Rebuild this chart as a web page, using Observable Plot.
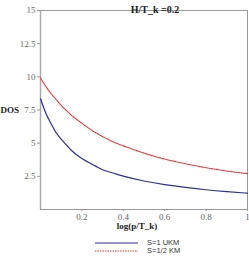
<!DOCTYPE html>
<html><head><meta charset="utf-8">
<script src="https://cdn.jsdelivr.net/npm/d3@7"></script>
<script src="https://cdn.jsdelivr.net/npm/@observablehq/plot@0.6"></script>
<style>
body{margin:0;background:#fff;width:249px;height:259px;overflow:hidden;position:relative}
#legend{position:absolute;left:95px;top:239px;font-family:"Liberation Sans",Arial,sans-serif;font-size:7.5px;color:#333;line-height:8px}
.row{display:flex;align-items:center;height:8px}
.row svg{margin-right:9px}
</style>
</head><body>
<div id="chart"></div>
<div id="legend"></div>
<script>
const xs  = [0, 0.025, 0.05, 0.075, 0.1, 0.15, 0.2, 0.25, 0.3, 0.35, 0.4, 0.5, 0.6, 0.7, 0.8, 0.9, 1.0];
const ukm = [8.35, 7.3, 6.5, 5.8, 5.3, 4.45, 3.85, 3.4, 3.0, 2.75, 2.52, 2.15, 1.88, 1.67, 1.49, 1.35, 1.23];
const km  = [9.9, 9.3, 8.75, 8.3, 7.85, 7.1, 6.5, 5.95, 5.5, 5.1, 4.8, 4.25, 3.8, 3.45, 3.15, 2.9, 2.7];
const yTicks = [2.5, 5, 7.5, 10, 12.5, 15];
const xTicks = [0.2, 0.4, 0.6, 0.8, 1];
const seriesNames = ["S=1 UKM", "S=1/2 KM"];
const colors = ["#2e2e9e", "#f03030"];
const title = "H/T_k =0.2";
const xLabel = "log(p/T_k)";
const yLabel = "DOS";

const serif = "Liberation Serif";
const dataU = xs.map((x, i) => ({x, y: ukm[i]}));
const dataK = xs.map((x, i) => ({x, y: km[i]}));

const plot = Plot.plot({
  width: 249, height: 236,
  marginTop: 10, marginLeft: 40, marginRight: 2, marginBottom: 27,
  style: {fontFamily: serif, fontSize: "9px", background: "#fff"},
  x: {domain: [0, 1]},
  y: {domain: [0, 15]},
  marks: [
    Plot.axisY(yTicks, {tickSize: 3, stroke: "#999", fill: "#666", tickPadding: 2, label: null, fontFamily: serif, tickFormat: d => String(d)}),
    Plot.axisX(xTicks, {tickSize: 2, stroke: "#999", fill: "#666", tickPadding: 2, label: null, fontFamily: serif, tickFormat: d => String(d)}),
    Plot.frame({stroke: "#999", strokeWidth: 1}),
    Plot.ruleX([0], {stroke: "#aaa", strokeWidth: 1.5}),
    Plot.line(dataU, {x: "x", y: "y", stroke: colors[0], strokeWidth: 1.2, curve: "natural"}),
    Plot.line(dataK, {x: "x", y: "y", stroke: colors[1], strokeWidth: 1.1, strokeDasharray: "1.5,1", curve: "natural"}),
    Plot.text([title], {frameAnchor: "top", dy: -5, dx: 11, fontWeight: "bold", fontSize: 10, fill: "#222", fontFamily: serif}),
    Plot.text([xLabel], {frameAnchor: "bottom", dy: 19, dx: -7, fontWeight: "bold", fontSize: 9, fill: "#222", fontFamily: serif}),
    Plot.text([yLabel], {frameAnchor: "left", dx: -40, textAnchor: "start", fontWeight: "bold", fontSize: 9, fill: "#222", fontFamily: serif})
  ]
});
document.getElementById("chart").appendChild(plot);

const leg = d3.select("#legend");
seriesNames.forEach((name, i) => {
  const row = leg.append("div").attr("class", "row");
  const s = row.append("svg").attr("width", 43).attr("height", 4);
  s.append("line").attr("x1", 0).attr("x2", 43).attr("y1", 2).attr("y2", 2)
    .attr("stroke", colors[i]).attr("stroke-width", 1.2)
    .attr("stroke-dasharray", i === 1 ? "1.5,1" : null);
  row.append("span").text(name);
});
</script>
</body></html>
